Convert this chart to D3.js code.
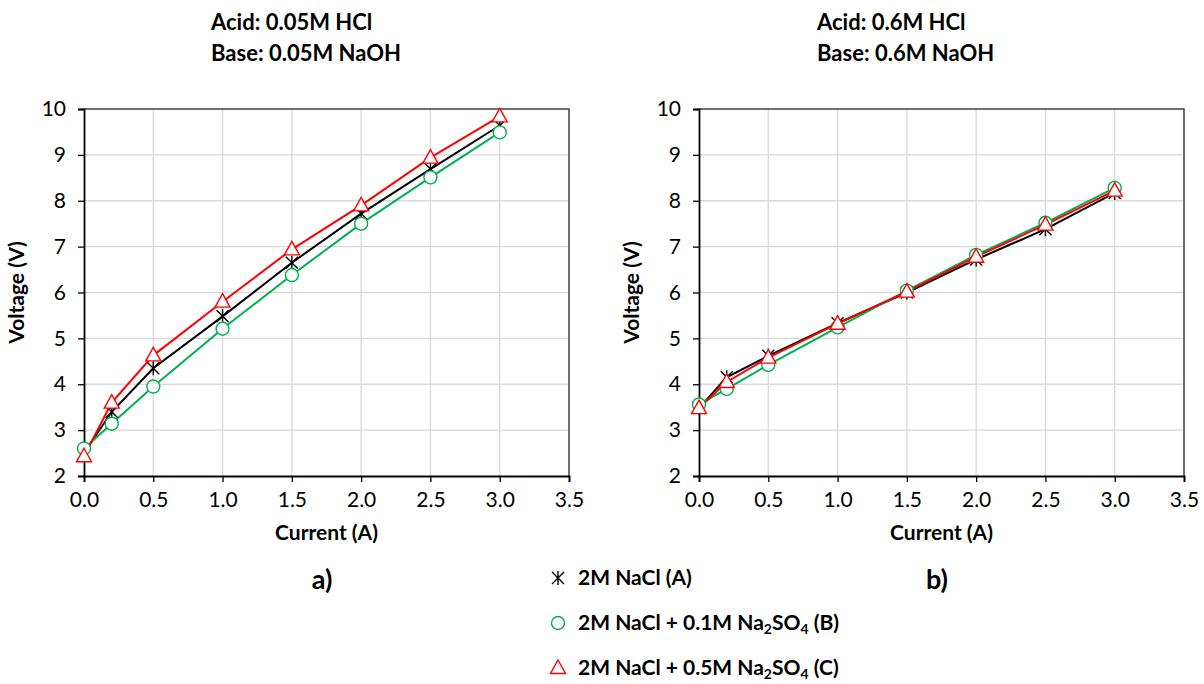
<!DOCTYPE html>
<html>
<head>
<meta charset="utf-8">
<script src="https://cdn.jsdelivr.net/npm/d3@7"></script>
<style>
  body { margin: 0; background: #fff; }
  svg { font-family: Lato, "Open Sans", sans-serif; }
</style>
</head>
<body>
<div id="container"></div>
<script>
// current (A)
const current = [0, 0.2, 0.5, 1.0, 1.5, 2.0, 2.5, 3.0];

// panel a) 0.05M HCl / 0.05M NaOH
const voltA_a = [2.50, 3.40, 4.35, 5.48, 6.65, 7.72, 8.69, 9.64];
const voltB_a = [2.60, 3.14, 3.95, 5.21, 6.38, 7.50, 8.51, 9.49];
const voltC_a = [2.43, 3.60, 4.63, 5.80, 6.94, 7.90, 8.94, 9.84];

// panel b) 0.6M HCl / 0.6M NaOH
const voltA_b = [3.48, 4.15, 4.62, 5.33, 6.00, 6.72, 7.38, 8.17];
const voltB_b = [3.56, 3.90, 4.42, 5.24, 6.04, 6.82, 7.52, 8.28];
const voltC_b = [3.48, 4.05, 4.58, 5.32, 6.02, 6.78, 7.48, 8.22];

const xTicks = [0, 0.5, 1.0, 1.5, 2.0, 2.5, 3.0, 3.5];
const yTicks = [2, 3, 4, 5, 6, 7, 8, 9, 10];

const seriesNames = ["2M NaCl (A)", "2M NaCl + 0.1M Na2SO4 (B)", "2M NaCl + 0.5M Na2SO4 (C)"];
const seriesColors = ["#000000", "#00b050", "#ff0000"];
const seriesMarkers = ["star", "circle", "triangle"];

const panels = [
  { left: 84, titles: ["Acid: 0.05M HCl", "Base: 0.05M NaOH"], titleX: 211, tag: "a)", data: [voltA_a, voltB_a, voltC_a] },
  { left: 699, titles: ["Acid: 0.6M HCl", "Base: 0.6M NaOH"], titleX: 817, tag: "b)", data: [voltA_b, voltB_b, voltC_b] }
];

const W = 1204, H = 684;
const plotW = 485, plotTop = 109, plotBottom = 476;

const svg = d3.select("#container").append("svg")
    .attr("width", W)
    .attr("height", H);

function drawMarker(g, type, color) {
    if (type === "star") {
        const s = 6;
        g.append("path")
            .attr("d", `M${-s},${-s}L${s},${s}M${-s},${s}L${s},${-s}M0,${-s - 1}L0,${s + 1}`)
            .attr("stroke", color).attr("stroke-width", 1.4).attr("fill", "none");
    } else if (type === "circle") {
        g.append("circle").attr("r", 6.5)
            .attr("fill", "#fff").attr("stroke", color).attr("stroke-width", 1.4);
    } else {
        g.append("path").attr("d", "M0,-8L7.5,5.5L-7.5,5.5Z")
            .attr("fill", "#fff").attr("stroke", color).attr("stroke-width", 1.4);
    }
}

panels.forEach(p => {
    const x = d3.scaleLinear().domain([0, 3.5]).range([p.left, p.left + plotW]);
    const y = d3.scaleLinear().domain([2, 10]).range([plotBottom, plotTop]);
    const g = svg.append("g");

    // grid
    g.append("g").selectAll("line").data(xTicks.slice(1, -1)).enter().append("line")
        .attr("x1", d => x(d)).attr("x2", d => x(d))
        .attr("y1", plotTop).attr("y2", plotBottom)
        .attr("stroke", "#d9d9d9").attr("stroke-width", 1.3);
    g.append("g").selectAll("line").data(yTicks.slice(1, -1)).enter().append("line")
        .attr("x1", p.left).attr("x2", p.left + plotW)
        .attr("y1", d => y(d)).attr("y2", d => y(d))
        .attr("stroke", "#d9d9d9").attr("stroke-width", 1.3);

    // frame top/right
    g.append("path")
        .attr("d", `M${p.left},${plotTop}H${p.left + plotW}V${plotBottom}`)
        .attr("fill", "none").attr("stroke", "#404040").attr("stroke-width", 1.5);

    // axes
    const xAxis = g.append("g")
        .attr("transform", `translate(0,${plotBottom})`)
        .call(d3.axisBottom(x).tickValues(xTicks).tickFormat(d3.format(".1f")).tickSize(6).tickPadding(10));
    const yAxis = g.append("g")
        .attr("transform", `translate(${p.left},0)`)
        .call(d3.axisLeft(y).tickValues(yTicks).tickSize(6).tickPadding(12));
    [xAxis, yAxis].forEach(a => {
        a.select(".domain").attr("stroke", "#000").attr("stroke-width", 1.8);
        a.selectAll(".tick line").attr("stroke", "#000").attr("stroke-width", 1.3);
        a.selectAll("text").attr("font-size", 21).attr("fill", "#000")
            .attr("font-family", "Lato, sans-serif");
    });

    // series
    const line = d3.line().x((d, i) => x(current[i])).y(d => y(d));
    p.data.forEach((vals, si) => {
        g.append("path").datum(vals)
            .attr("d", line)
            .attr("fill", "none")
            .attr("stroke", seriesColors[si])
            .attr("stroke-width", 2);
    });
    p.data.forEach((vals, si) => {
        vals.forEach((v, i) => {
            const m = g.append("g").attr("transform", `translate(${x(current[i])},${y(v)})`);
            drawMarker(m, seriesMarkers[si], seriesColors[si]);
        });
    });

    // titles
    p.titles.forEach((t, i) => {
        svg.append("text").attr("x", p.titleX).attr("y", 30 + i * 31)
            .attr("font-size", 22).attr("font-weight", "bold").text(t);
    });

    // axis titles
    svg.append("text")
        .attr("x", p.left + plotW / 2).attr("y", 540)
        .attr("text-anchor", "middle").attr("font-size", 21).attr("font-weight", "bold")
        .text("Current (A)");
    svg.append("text")
        .attr("transform", `translate(${p.left - 60},${(plotTop + plotBottom) / 2}) rotate(-90)`)
        .attr("text-anchor", "middle").attr("font-size", 21).attr("font-weight", "bold")
        .text("Voltage (V)");

    svg.append("text")
        .attr("x", p.left + 238).attr("y", 589)
        .attr("text-anchor", "middle").attr("font-size", 27).attr("font-weight", "bold")
        .text(p.tag);
});

// legend
const legend = svg.append("g");
seriesNames.forEach((name, i) => {
    const row = legend.append("g").attr("transform", `translate(558,${578 + i * 45})`);
    drawMarker(row.append("g"), seriesMarkers[i], seriesColors[i]);
    const t = row.append("text").attr("x", 20).attr("y", 7)
        .attr("font-size", 21).attr("font-weight", "bold");
    const m = name.match(/^(.*Na)2SO4(.*)$/);
    if (m) {
        t.append("tspan").text(m[1]);
        t.append("tspan").attr("dy", 4).attr("font-size", 14).text("2");
        t.append("tspan").attr("dy", -4).text("SO");
        t.append("tspan").attr("dy", 4).attr("font-size", 14).text("4");
        t.append("tspan").attr("dy", -4).text(m[2]);
    } else {
        t.text(name);
    }
});
</script>
</body>
</html>
